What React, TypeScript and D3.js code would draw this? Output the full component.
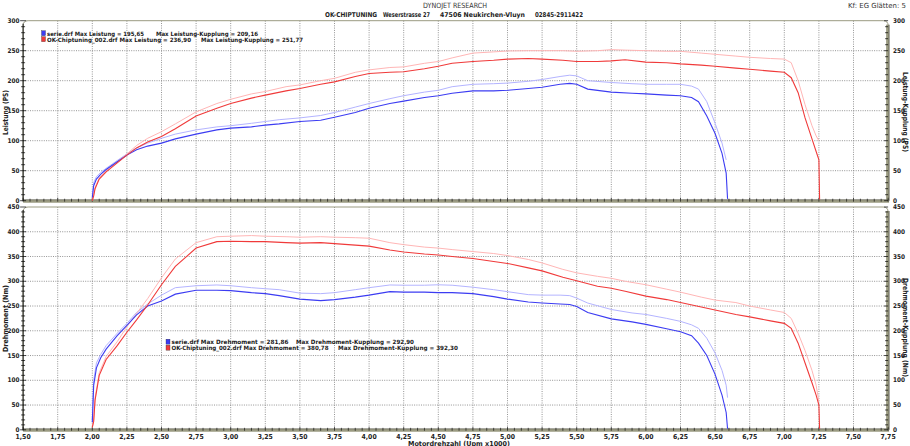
import React from 'react';
import * as d3 from 'd3';

// Serie (stock) run, sampled rpm x1000
const rpmSerie = [
  2.0, 2.01, 2.03, 2.06, 2.1, 2.18, 2.25, 2.32, 2.4, 2.5, 2.6, 2.75, 2.9, 3.0, 3.15, 3.25, 3.35, 3.5, 3.65, 3.75,
  3.9, 4.0, 4.15, 4.25, 4.4, 4.5, 4.6, 4.75, 4.9, 5.0, 5.15, 5.25, 5.38, 5.45, 5.5, 5.58, 5.75, 5.9, 6.0, 6.15,
  6.25, 6.33, 6.38, 6.44, 6.5, 6.55, 6.58, 6.59,
];
const serieLeistung = [
  5, 25, 36, 44, 52, 65, 76, 85, 91, 96, 103, 111, 118, 121, 123, 126, 128, 132, 134, 139,
  147, 154, 162, 166, 172, 175, 179, 183, 183, 184, 187, 189, 194, 195.6, 194, 186, 181, 179, 178, 176,
  175, 172, 165, 141, 112, 79, 46, 3,
];
const serieLeistungKupplung = [
  8, 30, 40, 47, 54, 67, 78, 88, 96, 104, 111, 118, 123, 125, 129, 132, 135, 138, 142, 147,
  156, 162, 170, 175, 181, 184, 190, 194, 195, 196, 199, 202, 207, 209.2, 208, 200, 197, 195, 194, 194,
  194, 191, 186, 165, 129, 96, 68, null,
];
const serieDrehmoment = [
  15, 90, 125, 145, 163, 190, 211, 232, 250, 260, 274, 282, 281.9, 281, 277, 275, 271, 264, 261, 263,
  268, 272, 279, 278, 278, 277, 277, 275, 269, 264, 258, 256, 254, 253, 249, 237, 224, 218, 213, 204,
  198, 190, 175, 150, 112, 70, 35, 2,
];
const serieDrehmomentKupplung = [
  20, 100, 135, 152, 170, 195, 215, 237, 254, 272, 287, 291, 292.5, 291, 287, 285, 283, 276, 275, 277,
  283, 287, 292.5, 292, 292, 292.9, 292, 288, 283, 279, 273, 272, 272, 271, 266, 256, 243, 236, 233, 225,
  219, 212, 205, 185, 155, 120, 90, 65,
];

// OK-Chiptuning run
const rpmChip = [
  2.0, 2.01, 2.02, 2.05, 2.1, 2.18, 2.25, 2.32, 2.4, 2.5, 2.6, 2.75, 2.9, 3.0, 3.15, 3.25, 3.4, 3.5, 3.65, 3.75,
  3.9, 4.0, 4.15, 4.25, 4.4, 4.5, 4.6, 4.75, 4.9, 5.0, 5.15, 5.25, 5.4, 5.5, 5.65, 5.75, 5.85, 6.0, 6.15, 6.25,
  6.4, 6.5, 6.65, 6.75, 6.9, 7.0, 7.05, 7.1, 7.15, 7.2, 7.23, 7.25, 7.255,
];
const chipLeistung = [
  0, 8, 20, 36, 48, 63, 76, 88, 98, 107, 120, 141, 154, 162, 171, 176, 183, 187, 194, 198,
  207, 212, 214, 215, 220, 224, 229, 232, 234, 236, 236.9, 236, 234, 232, 232, 233, 235, 231, 230, 228,
  226, 224, 221, 219, 216, 214, 205, 180, 138, 103, 82, 68, 2,
];
const chipLeistungKupplung = [
  0, 10, 22, 38, 50, 65, 78, 92, 104, 115, 128, 148, 162, 169, 178, 182, 190, 193, 200, 204,
  214, 218, 222, 223, 229, 232, 238, 246, 248, 249.5, 250, 250, 250, 249, 250, 251.8, 251, 250, 249, 249,
  246, 244, 241, 239, 237, 236, 230, 200, 160, 125, 108, 100, null,
];
const chipDrehmoment = [
  5, 17, 60, 110, 142, 170, 197, 222, 252, 293, 330, 367, 380, 380.8, 380, 380, 378, 377, 378, 376,
  373, 371, 363, 359, 355, 353, 350, 346, 340, 336, 327, 321, 308, 301, 290, 286, 280, 270, 263, 257,
  248, 242, 233, 228, 220, 215, 205, 175, 135, 95, 70, 50, 2,
];
const chipDrehmomentKupplung = [
  5, 20, 65, 115, 148, 178, 208, 235, 265, 307, 345, 378, 390, 391, 392.3, 391, 390, 389, 390, 389,
  388, 387, 378, 374, 369, 367, 364, 360, 356, 352, 344, 337, 324, 317, 310, 306, 300, 293, 284, 278,
  268, 262, 257, 250, 242, 237, 225, 195, 160, 120, 90, 57, null,
];

const xTickValues = [1.5, 1.75, 2.0, 2.25, 2.5, 2.75, 3.0, 3.25, 3.5, 3.75, 4.0, 4.25, 4.5, 4.75, 5.0, 5.25, 5.5, 5.75, 6.0, 6.25, 6.5, 6.75, 7.0, 7.25, 7.5, 7.75];
const leistungTicks = [0, 50, 100, 150, 200, 250, 300];
const drehmomentTicks = [0, 50, 100, 150, 200, 250, 300, 350, 400, 450];

const legendTop = [
  { file: 'serie.drf Max Leistung = 195,65', kupplung: 'Max Leistung-Kupplung = 209,16' },
  { file: 'OK-Chiptuning_002.drf Max Leistung = 236,90', kupplung: 'Max Leistung-Kupplung = 251,77' },
];
const legendBottom = [
  { file: 'serie.drf Max Drehmoment = 281,86', kupplung: 'Max Drehmoment-Kupplung = 292,90' },
  { file: 'OK-Chiptuning_002.drf Max Drehmoment = 380,78', kupplung: 'Max Drehmoment-Kupplung = 392,30' },
];

const BLUE = '#3c3cf2';
const BLUE_LIGHT = '#b4b4ff';
const RED = '#f03a3a';
const RED_LIGHT = '#ffb6b6';
const FRAME = '#9b9b82';
const GRID = '#7a7a7a';
const FONT = '"DejaVu Sans Condensed", "DejaVu Sans", sans-serif';

const x = d3.scaleLinear().domain([1.5, 7.75]).range([23.1, 888.1]);
const yTop = d3.scaleLinear().domain([0, 300]).range([200.7, 20.7]);
const yBot = d3.scaleLinear().domain([0, 450]).range([429.8, 207]);

const fmt = (v: number) => v.toFixed(2).replace('.', ',');

function curve(rpm: number[], vals: (number | null)[], y: d3.ScaleLinear<number, number>) {
  const line = d3
    .line<number | null>()
    .defined((d) => d != null)
    .x((_, i) => x(rpm[i]))
    .y((d) => y(d as number));
  return line(vals) || '';
}

// text squeezed to the width it has in the reference
function T({ x: tx, y: ty, w, children, ...rest }: any) {
  return (
    <text x={tx} y={ty} textLength={w} lengthAdjust="spacingAndGlyphs" {...rest}>
      {children}
    </text>
  );
}

function Panel({ y, ticks, minorStep }: { y: d3.ScaleLinear<number, number>; ticks: number[]; minorStep: number }) {
  const [x0, x1] = x.range();
  const [yb, yt] = y.range();
  const r = 5;
  const max = y.domain()[1];
  const minors = d3.range(0, max + 0.1, minorStep);
  const xMinors = d3.range(1.5, 7.76, 0.05);
  return (
    <g>
      {/* grid */}
      {ticks.slice(1, -1).map((t) => (
        <line key={'h' + t} x1={x0} x2={x1} y1={y(t)} y2={y(t)} stroke={GRID} strokeWidth={0.8} strokeDasharray="1,1.3" />
      ))}
      {xTickValues.slice(1, -1).map((t) => (
        <line key={'v' + t} x1={x(t)} x2={x(t)} y1={yt} y2={yb} stroke={GRID} strokeWidth={0.8} strokeDasharray="1,1.3" />
      ))}
      {/* frame */}
      <path
        d={`M${x0},${yb} L${x0},${yt + r} Q${x0},${yt} ${x0 + r},${yt} L${x1 - r},${yt} Q${x1},${yt} ${x1},${yt + r} L${x1},${yb}`}
        fill="none"
        stroke={FRAME}
        strokeWidth={1}
      />
      <line x1={x1 - 0.5} x2={x1 - 0.5} y1={yt + 4} y2={yb} stroke={FRAME} strokeWidth={3} />
      <line x1={x1 + 1} x2={x1 + 1} y1={yt + 4} y2={yb} stroke="#55554a" strokeWidth={0.8} />
      <line x1={x0} x2={x1 + 1} y1={yb + 0.5} y2={yb + 0.5} stroke={FRAME} strokeWidth={3} />
      <line x1={x0} x2={x1 + 1} y1={yb - 1} y2={yb - 1} stroke="#55554a" strokeWidth={0.6} />
      {/* left axis */}
      <line x1={x0} x2={x0} y1={yt + 3} y2={yb} stroke="#000" strokeWidth={0.9} />
      {minors.map((m) => {
        const major = ticks.includes(m);
        return (
          <g key={'m' + m}>
            <line x1={x0 - (major ? 3 : 2)} x2={x0 + (major ? 3 : 2)} y1={y(m)} y2={y(m)} stroke="#000" strokeWidth={0.7} />
            <line x1={x1 - (major ? 4 : 3)} x2={x1} y1={y(m)} y2={y(m)} stroke="#000" strokeWidth={0.7} />
          </g>
        );
      })}
      {/* bottom ticks */}
      {xMinors.map((m, i) => (
        <line key={'xm' + i} x1={x(m)} x2={x(m)} y1={yb - (i % 5 === 0 ? 3 : 2)} y2={yb + 1} stroke="#000" strokeWidth={0.6} />
      ))}
      {/* tick labels */}
      {ticks.map((t) => (
        <g key={'l' + t}>
          <text x={x0 - 3.5} y={y(t) + 2.2} textAnchor="end" fontSize={6.4} fontWeight="bold" fill="#222">
            {t}
          </text>
          <text x={x1 + 5} y={y(t) + 2.2} textAnchor="start" fontSize={6.4} fontWeight="bold" fill="#222">
            {t}
          </text>
        </g>
      ))}
    </g>
  );
}

function Legend({ x0, y0, rows, kx, w }: { x0: number; y0: number; rows: typeof legendTop; kx: number[]; w: number[][] }) {
  const colors = [BLUE, RED];
  return (
    <g fontSize={5.9} fontWeight="bold" fill="#1a1a1a">
      {rows.map((r, i) => (
        <g key={i}>
          <rect x={x0} y={y0 + i * 6 - 4.8} width={4} height={5} fill={colors[i]} stroke="#222" strokeWidth={0.3} />
          <T x={x0 + 5.5} y={y0 + i * 6} w={w[i][0]}>
            {r.file}
          </T>
          <T x={kx[i]} y={y0 + i * 6} w={w[i][1]}>
            {r.kupplung}
          </T>
        </g>
      ))}
    </g>
  );
}

export default function App() {
  return (
    <div style={{ position: 'fixed', left: 0, top: 0 }}>
      <svg width={910} height={446} style={{ display: 'block', background: '#fff', fontFamily: FONT }}>
        {/* header */}
        <T x={423} y={8} w={64} fontSize={7.2} fill="#333">
          DYNOJET RESEARCH
        </T>
        <g fontSize={6.6} fontWeight="bold" fill="#222">
          <T x={325} y={16.5} w={52}>OK-CHIPTUNING</T>
          <T x={383} y={16.5} w={47}>Weserstrasse 27</T>
          <T x={440} y={16.5} w={85}>47506 Neukirchen-Vluyn</T>
          <T x={535} y={16.5} w={48}>02845-2911422</T>
        </g>
        <T x={848} y={7.5} w={58} fontSize={7} fill="#333">
          Kf: EG  Glätten: 5
        </T>

        <Panel y={yTop} ticks={leistungTicks} minorStep={10} />
        <Panel y={yBot} ticks={drehmomentTicks} minorStep={10} />

        {/* power curves */}
        <path d={curve(rpmSerie, serieLeistungKupplung, yTop)} fill="none" stroke={BLUE_LIGHT} strokeWidth={1} />
        <path d={curve(rpmChip, chipLeistungKupplung, yTop)} fill="none" stroke={RED_LIGHT} strokeWidth={1} />
        <path d={curve(rpmSerie, serieLeistung, yTop)} fill="none" stroke={BLUE} strokeWidth={1.1} />
        <path d={curve(rpmChip, chipLeistung, yTop)} fill="none" stroke={RED} strokeWidth={1.1} />

        {/* torque curves */}
        <path d={curve(rpmSerie, serieDrehmomentKupplung, yBot)} fill="none" stroke={BLUE_LIGHT} strokeWidth={1} />
        <path d={curve(rpmChip, chipDrehmomentKupplung, yBot)} fill="none" stroke={RED_LIGHT} strokeWidth={1} />
        <path d={curve(rpmSerie, serieDrehmoment, yBot)} fill="none" stroke={BLUE} strokeWidth={1.1} />
        <path d={curve(rpmChip, chipDrehmoment, yBot)} fill="none" stroke={RED} strokeWidth={1.1} />

        <Legend x0={41.5} y0={35.5} rows={legendTop} kx={[156, 201]} w={[[97, 102], [144, 102]]} />
        <Legend x0={166} y0={344} rows={legendBottom} kx={[296, 338]} w={[[117, 118], [157, 120]]} />

        {/* x tick labels */}
        {xTickValues.map((t) => (
          <text key={t} x={x(t)} y={439} textAnchor="middle" fontSize={6.8} fontWeight="bold" fill="#222">
            {fmt(t)}
          </text>
        ))}
        <T x={408} y={445.5} w={102} fontSize={6.8} fontWeight="bold" fill="#222">
          Motordrehzahl (Upm x1000)
        </T>

        {/* axis titles */}
        <g fontSize={7.2} fontWeight="bold" fill="#222">
          <T transform="translate(8,135) rotate(-90)" x={0} y={0} w={45}>Leistung (PS)</T>
          <T transform="translate(903,72) rotate(90)" x={0} y={0} w={80}>Leistung-Kupplung (PS)</T>
          <T transform="translate(8,352) rotate(-90)" x={0} y={0} w={67}>Drehmoment (Nm)</T>
          <T transform="translate(903,278) rotate(90)" x={0} y={0} w={99}>Drehmoment-Kupplung (Nm)</T>
        </g>
      </svg>
    </div>
  );
}
